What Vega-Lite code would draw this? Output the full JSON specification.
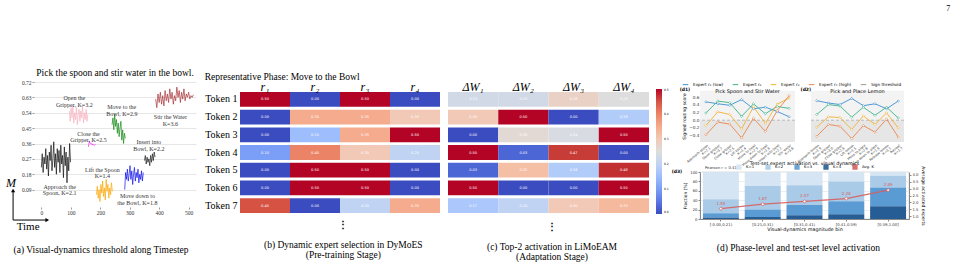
{
  "$schema": "https://vega.github.io/schema/vega-lite/v6.json",
  "background": "white",
  "padding": {"left": 6, "top": 4, "right": 0, "bottom": 0},
  "title": {"text": "7", "anchor": "end", "fontSize": 8, "font": "Liberation Serif", "fontWeight": "normal", "offset": 55, "dx": 25},
  "config": {
    "view": {"stroke": null},
    "legend": {"layout": {"top": {"anchor": "middle"}}},
    "axis": {"labelFont": "Liberation Serif", "titleFont": "Liberation Serif", "labelOverlap": false, "tickCount": 12}
  },
  "datasets": {
    "seriesA": [
      {"seg": "Approach", "t": 0, "m": 0.22}, {"seg": "Approach", "t": 3, "m": 0.30}, {"seg": "Approach", "t": 6, "m": 0.19}, {"seg": "Approach", "t": 9, "m": 0.28},
      {"seg": "Approach", "t": 12, "m": 0.24}, {"seg": "Approach", "t": 15, "m": 0.33}, {"seg": "Approach", "t": 18, "m": 0.21}, {"seg": "Approach", "t": 21, "m": 0.29},
      {"seg": "Approach", "t": 24, "m": 0.17}, {"seg": "Approach", "t": 27, "m": 0.31}, {"seg": "Approach", "t": 30, "m": 0.26}, {"seg": "Approach", "t": 33, "m": 0.35},
      {"seg": "Approach", "t": 36, "m": 0.20}, {"seg": "Approach", "t": 39, "m": 0.27}, {"seg": "Approach", "t": 42, "m": 0.37}, {"seg": "Approach", "t": 45, "m": 0.22},
      {"seg": "Approach", "t": 48, "m": 0.30}, {"seg": "Approach", "t": 51, "m": 0.18}, {"seg": "Approach", "t": 54, "m": 0.33}, {"seg": "Approach", "t": 57, "m": 0.25},
      {"seg": "Approach", "t": 60, "m": 0.32}, {"seg": "Approach", "t": 63, "m": 0.19}, {"seg": "Approach", "t": 66, "m": 0.35}, {"seg": "Approach", "t": 69, "m": 0.24},
      {"seg": "Approach", "t": 72, "m": 0.29}, {"seg": "Approach", "t": 75, "m": 0.16}, {"seg": "Approach", "t": 78, "m": 0.34}, {"seg": "Approach", "t": 81, "m": 0.23},
      {"seg": "Approach", "t": 84, "m": 0.31}, {"seg": "Approach", "t": 87, "m": 0.13}, {"seg": "Approach", "t": 90, "m": 0.28}, {"seg": "Approach", "t": 93, "m": 0.20},
      {"seg": "Approach", "t": 96, "m": 0.36}, {"seg": "Approach", "t": 99, "m": 0.25},
      {"seg": "Open", "t": 95, "m": 0.55}, {"seg": "Open", "t": 98, "m": 0.49}, {"seg": "Open", "t": 101, "m": 0.57}, {"seg": "Open", "t": 104, "m": 0.51},
      {"seg": "Open", "t": 107, "m": 0.58}, {"seg": "Open", "t": 110, "m": 0.48}, {"seg": "Open", "t": 113, "m": 0.54}, {"seg": "Open", "t": 116, "m": 0.50},
      {"seg": "Open", "t": 119, "m": 0.57}, {"seg": "Open", "t": 122, "m": 0.47}, {"seg": "Open", "t": 125, "m": 0.53}, {"seg": "Open", "t": 128, "m": 0.56},
      {"seg": "Open", "t": 131, "m": 0.49}, {"seg": "Open", "t": 134, "m": 0.55}, {"seg": "Open", "t": 137, "m": 0.51}, {"seg": "Open", "t": 140, "m": 0.58},
      {"seg": "Open", "t": 143, "m": 0.48}, {"seg": "Open", "t": 146, "m": 0.54}, {"seg": "Open", "t": 149, "m": 0.50}, {"seg": "Open", "t": 152, "m": 0.56},
      {"seg": "Open", "t": 155, "m": 0.49}, {"seg": "Open", "t": 158, "m": 0.53},
      {"seg": "Close", "t": 160, "m": 0.34}, {"seg": "Close", "t": 163, "m": 0.375}, {"seg": "Close", "t": 166, "m": 0.36}, {"seg": "Close", "t": 169, "m": 0.355},
      {"seg": "Close", "t": 172, "m": 0.36}, {"seg": "Close", "t": 175, "m": 0.35}, {"seg": "Close", "t": 178, "m": 0.355}, {"seg": "Close", "t": 181, "m": 0.35},
      {"seg": "Close", "t": 184, "m": 0.355},
      {"seg": "MoveTo", "t": 240, "m": 0.47}, {"seg": "MoveTo", "t": 243, "m": 0.51}, {"seg": "MoveTo", "t": 246, "m": 0.44}, {"seg": "MoveTo", "t": 249, "m": 0.53},
      {"seg": "MoveTo", "t": 252, "m": 0.46}, {"seg": "MoveTo", "t": 255, "m": 0.50}, {"seg": "MoveTo", "t": 258, "m": 0.42}, {"seg": "MoveTo", "t": 261, "m": 0.48},
      {"seg": "MoveTo", "t": 264, "m": 0.40}, {"seg": "MoveTo", "t": 267, "m": 0.45}, {"seg": "MoveTo", "t": 270, "m": 0.49}, {"seg": "MoveTo", "t": 273, "m": 0.38},
      {"seg": "MoveTo", "t": 276, "m": 0.44}, {"seg": "MoveTo", "t": 279, "m": 0.36}, {"seg": "MoveTo", "t": 282, "m": 0.42}, {"seg": "MoveTo", "t": 285, "m": 0.39},
      {"seg": "Lift", "t": 187, "m": 0.06}, {"seg": "Lift", "t": 190, "m": 0.11}, {"seg": "Lift", "t": 193, "m": 0.04}, {"seg": "Lift", "t": 196, "m": 0.09},
      {"seg": "Lift", "t": 199, "m": 0.02}, {"seg": "Lift", "t": 202, "m": 0.12}, {"seg": "Lift", "t": 205, "m": 0.07}, {"seg": "Lift", "t": 208, "m": 0.14},
      {"seg": "Lift", "t": 211, "m": 0.05}, {"seg": "Lift", "t": 214, "m": 0.10}, {"seg": "Lift", "t": 217, "m": 0.03}, {"seg": "Lift", "t": 220, "m": 0.15},
      {"seg": "Lift", "t": 223, "m": 0.08}, {"seg": "Lift", "t": 226, "m": 0.12}, {"seg": "Lift", "t": 229, "m": 0.04}, {"seg": "Lift", "t": 232, "m": 0.10},
      {"seg": "Lift", "t": 235, "m": 0.06}, {"seg": "Lift", "t": 238, "m": 0.13}, {"seg": "Lift", "t": 241, "m": 0.08},
      {"seg": "MoveDown", "t": 283, "m": 0.09}, {"seg": "MoveDown", "t": 286, "m": 0.19}, {"seg": "MoveDown", "t": 289, "m": 0.15}, {"seg": "MoveDown", "t": 292, "m": 0.21},
      {"seg": "MoveDown", "t": 295, "m": 0.14}, {"seg": "MoveDown", "t": 298, "m": 0.18}, {"seg": "MoveDown", "t": 301, "m": 0.23}, {"seg": "MoveDown", "t": 304, "m": 0.15},
      {"seg": "MoveDown", "t": 307, "m": 0.20}, {"seg": "MoveDown", "t": 310, "m": 0.12}, {"seg": "MoveDown", "t": 313, "m": 0.18}, {"seg": "MoveDown", "t": 316, "m": 0.22},
      {"seg": "MoveDown", "t": 319, "m": 0.14}, {"seg": "MoveDown", "t": 322, "m": 0.19}, {"seg": "MoveDown", "t": 325, "m": 0.16}, {"seg": "MoveDown", "t": 328, "m": 0.21},
      {"seg": "MoveDown", "t": 331, "m": 0.13}, {"seg": "MoveDown", "t": 334, "m": 0.18}, {"seg": "MoveDown", "t": 337, "m": 0.15}, {"seg": "MoveDown", "t": 340, "m": 0.20},
      {"seg": "MoveDown", "t": 343, "m": 0.14}, {"seg": "MoveDown", "t": 346, "m": 0.19},
      {"seg": "Insert", "t": 350, "m": 0.26}, {"seg": "Insert", "t": 353, "m": 0.29}, {"seg": "Insert", "t": 356, "m": 0.24}, {"seg": "Insert", "t": 359, "m": 0.28},
      {"seg": "Insert", "t": 362, "m": 0.25}, {"seg": "Insert", "t": 365, "m": 0.27}, {"seg": "Insert", "t": 368, "m": 0.23}, {"seg": "Insert", "t": 371, "m": 0.29},
      {"seg": "Insert", "t": 374, "m": 0.25}, {"seg": "Insert", "t": 377, "m": 0.30}, {"seg": "Insert", "t": 380, "m": 0.26}, {"seg": "Insert", "t": 383, "m": 0.31},
      {"seg": "Insert", "t": 386, "m": 0.28},
      {"seg": "Stir", "t": 388, "m": 0.62}, {"seg": "Stir", "t": 392, "m": 0.57}, {"seg": "Stir", "t": 396, "m": 0.65}, {"seg": "Stir", "t": 400, "m": 0.60},
      {"seg": "Stir", "t": 404, "m": 0.66}, {"seg": "Stir", "t": 408, "m": 0.59}, {"seg": "Stir", "t": 412, "m": 0.64}, {"seg": "Stir", "t": 416, "m": 0.58},
      {"seg": "Stir", "t": 420, "m": 0.67}, {"seg": "Stir", "t": 424, "m": 0.61}, {"seg": "Stir", "t": 428, "m": 0.65}, {"seg": "Stir", "t": 432, "m": 0.60},
      {"seg": "Stir", "t": 436, "m": 0.68}, {"seg": "Stir", "t": 440, "m": 0.62}, {"seg": "Stir", "t": 444, "m": 0.66}, {"seg": "Stir", "t": 448, "m": 0.59},
      {"seg": "Stir", "t": 452, "m": 0.64}, {"seg": "Stir", "t": 456, "m": 0.61}, {"seg": "Stir", "t": 460, "m": 0.69}, {"seg": "Stir", "t": 464, "m": 0.63},
      {"seg": "Stir", "t": 468, "m": 0.67}, {"seg": "Stir", "t": 472, "m": 0.60}, {"seg": "Stir", "t": 476, "m": 0.66}, {"seg": "Stir", "t": 480, "m": 0.62},
      {"seg": "Stir", "t": 484, "m": 0.68}, {"seg": "Stir", "t": 488, "m": 0.61}, {"seg": "Stir", "t": 492, "m": 0.65}, {"seg": "Stir", "t": 496, "m": 0.63},
      {"seg": "Stir", "t": 500, "m": 0.66}, {"seg": "Stir", "t": 504, "m": 0.62}, {"seg": "Stir", "t": 508, "m": 0.64}, {"seg": "Stir", "t": 512, "m": 0.63},
      {"seg": "Stir", "t": 516, "m": 0.645}
    ],
    "labelsA": [
      {"t": 112, "m": 0.624, "label": "Open the\nGripper, K=3.2"},
      {"t": 273, "m": 0.573, "label": "Move to the\nBowl, K=2.9"},
      {"t": 438, "m": 0.514, "label": "Stir the Water\nK=3.6"},
      {"t": 160, "m": 0.416, "label": "Close the\nGripper, K=2.5"},
      {"t": 365, "m": 0.368, "label": "Insert into\nBowl, K=2.2"},
      {"t": 207, "m": 0.206, "label": "Lift the Spoon\nK=1.4"},
      {"t": 62, "m": 0.106, "label": "Approach the\nSpoon, K=2.1"},
      {"t": 326, "m": 0.05, "label": "Move down to\nthe Bowl, K=1.8"}
    ],
    "heatB": [
      {"tok": "Token 1", "col": "r₁", "v": 0.50}, {"tok": "Token 1", "col": "r₂", "v": 0.00}, {"tok": "Token 1", "col": "r₃", "v": 0.50}, {"tok": "Token 1", "col": "r₄", "v": 0.00},
      {"tok": "Token 2", "col": "r₁", "v": 0.00}, {"tok": "Token 2", "col": "r₂", "v": 0.35}, {"tok": "Token 2", "col": "r₃", "v": 0.35}, {"tok": "Token 2", "col": "r₄", "v": 0.30},
      {"tok": "Token 3", "col": "r₁", "v": 0.00}, {"tok": "Token 3", "col": "r₂", "v": 0.15}, {"tok": "Token 3", "col": "r₃", "v": 0.35}, {"tok": "Token 3", "col": "r₄", "v": 0.50},
      {"tok": "Token 4", "col": "r₁", "v": 0.10}, {"tok": "Token 4", "col": "r₂", "v": 0.40}, {"tok": "Token 4", "col": "r₃", "v": 0.30}, {"tok": "Token 4", "col": "r₄", "v": 0.20},
      {"tok": "Token 5", "col": "r₁", "v": 0.00}, {"tok": "Token 5", "col": "r₂", "v": 0.50}, {"tok": "Token 5", "col": "r₃", "v": 0.50}, {"tok": "Token 5", "col": "r₄", "v": 0.00},
      {"tok": "Token 6", "col": "r₁", "v": 0.00}, {"tok": "Token 6", "col": "r₂", "v": 0.50}, {"tok": "Token 6", "col": "r₃", "v": 0.50}, {"tok": "Token 6", "col": "r₄", "v": 0.00},
      {"tok": "Token 7", "col": "r₁", "v": 0.45}, {"tok": "Token 7", "col": "r₂", "v": 0.00}, {"tok": "Token 7", "col": "r₃", "v": 0.20}, {"tok": "Token 7", "col": "r₄", "v": 0.35}
    ],
    "heatC": [
      {"tok": "Token 1", "col": "ΔW₁", "v": 0.23}, {"tok": "Token 1", "col": "ΔW₂", "v": 0.23}, {"tok": "Token 1", "col": "ΔW₃", "v": 0.28}, {"tok": "Token 1", "col": "ΔW₄", "v": 0.25},
      {"tok": "Token 2", "col": "ΔW₁", "v": 0.30}, {"tok": "Token 2", "col": "ΔW₂", "v": 0.50}, {"tok": "Token 2", "col": "ΔW₃", "v": 0.00}, {"tok": "Token 2", "col": "ΔW₄", "v": 0.18},
      {"tok": "Token 3", "col": "ΔW₁", "v": 0.00}, {"tok": "Token 3", "col": "ΔW₂", "v": 0.26}, {"tok": "Token 3", "col": "ΔW₃", "v": 0.24}, {"tok": "Token 3", "col": "ΔW₄", "v": 0.50},
      {"tok": "Token 4", "col": "ΔW₁", "v": 0.50}, {"tok": "Token 4", "col": "ΔW₂", "v": 0.03}, {"tok": "Token 4", "col": "ΔW₃", "v": 0.47}, {"tok": "Token 4", "col": "ΔW₄", "v": 0.00},
      {"tok": "Token 5", "col": "ΔW₁", "v": 0.03}, {"tok": "Token 5", "col": "ΔW₂", "v": 0.32}, {"tok": "Token 5", "col": "ΔW₃", "v": 0.18}, {"tok": "Token 5", "col": "ΔW₄", "v": 0.48},
      {"tok": "Token 6", "col": "ΔW₁", "v": 0.50}, {"tok": "Token 6", "col": "ΔW₂", "v": 0.00}, {"tok": "Token 6", "col": "ΔW₃", "v": 0.00}, {"tok": "Token 6", "col": "ΔW₄", "v": 0.50},
      {"tok": "Token 7", "col": "ΔW₁", "v": 0.17}, {"tok": "Token 7", "col": "ΔW₂", "v": 0.20}, {"tok": "Token 7", "col": "ΔW₃", "v": 0.30}, {"tok": "Token 7", "col": "ΔW₄", "v": 0.33}
    ],
    "phaseD1": [
      {"phase": "Approach spoon\nK=2.1", "expert": "Expert r₁ (low)", "score": 0.48}, {"phase": "Open gripper\nK=3.2", "expert": "Expert r₁ (low)", "score": 0.43},
      {"phase": "Close gripper\nK=2.5", "expert": "Expert r₁ (low)", "score": 0.39}, {"phase": "Lift spoon\nK=1.4", "expert": "Expert r₁ (low)", "score": 0.54},
      {"phase": "Move to bowl\nK=2.9", "expert": "Expert r₁ (low)", "score": 0.30}, {"phase": "Move down to bowl\nK=1.8", "expert": "Expert r₁ (low)", "score": 0.34},
      {"phase": "Insert into bowl\nK=2.2", "expert": "Expert r₁ (low)", "score": 0.23}, {"phase": "Stir water\nK=3.6", "expert": "Expert r₁ (low)", "score": 0.09},
      {"phase": "Approach spoon\nK=2.1", "expert": "Expert r₂", "score": 0.19}, {"phase": "Open gripper\nK=3.2", "expert": "Expert r₂", "score": 0.50},
      {"phase": "Close gripper\nK=2.5", "expert": "Expert r₂", "score": 0.46}, {"phase": "Lift spoon\nK=1.4", "expert": "Expert r₂", "score": 0.10},
      {"phase": "Move to bowl\nK=2.9", "expert": "Expert r₂", "score": 0.43}, {"phase": "Move down to bowl\nK=1.8", "expert": "Expert r₂", "score": 0.17},
      {"phase": "Insert into bowl\nK=2.2", "expert": "Expert r₂", "score": 0.36}, {"phase": "Stir water\nK=3.6", "expert": "Expert r₂", "score": 0.31},
      {"phase": "Approach spoon\nK=2.1", "expert": "Expert r₃", "score": -0.14}, {"phase": "Open gripper\nK=3.2", "expert": "Expert r₃", "score": 0.22},
      {"phase": "Close gripper\nK=2.5", "expert": "Expert r₃", "score": 0.15}, {"phase": "Lift spoon\nK=1.4", "expert": "Expert r₃", "score": -0.23},
      {"phase": "Move to bowl\nK=2.9", "expert": "Expert r₃", "score": 0.35}, {"phase": "Move down to bowl\nK=1.8", "expert": "Expert r₃", "score": -0.08},
      {"phase": "Insert into bowl\nK=2.2", "expert": "Expert r₃", "score": 0.42}, {"phase": "Stir water\nK=3.6", "expert": "Expert r₃", "score": 0.58},
      {"phase": "Approach spoon\nK=2.1", "expert": "Expert r₄ (high)", "score": -0.38}, {"phase": "Open gripper\nK=3.2", "expert": "Expert r₄ (high)", "score": -0.05},
      {"phase": "Close gripper\nK=2.5", "expert": "Expert r₄ (high)", "score": -0.10}, {"phase": "Lift spoon\nK=1.4", "expert": "Expert r₄ (high)", "score": -0.46},
      {"phase": "Move to bowl\nK=2.9", "expert": "Expert r₄ (high)", "score": 0.05}, {"phase": "Move down to bowl\nK=1.8", "expert": "Expert r₄ (high)", "score": -0.29},
      {"phase": "Insert into bowl\nK=2.2", "expert": "Expert r₄ (high)", "score": 0.25}, {"phase": "Stir water\nK=3.6", "expert": "Expert r₄ (high)", "score": 0.64}
    ],
    "phaseD2": [
      {"phase": "Approach lemon\nK=1.9", "expert": "Expert r₁ (low)", "score": 0.51}, {"phase": "Open gripper\nK=3.0", "expert": "Expert r₁ (low)", "score": 0.45},
      {"phase": "Close gripper\nK=2.8", "expert": "Expert r₁ (low)", "score": 0.41}, {"phase": "Lift lemon\nK=1.5", "expert": "Expert r₁ (low)", "score": 0.57},
      {"phase": "Move to plate\nK=2.6", "expert": "Expert r₁ (low)", "score": 0.38}, {"phase": "Move down to plate\nK=1.8", "expert": "Expert r₁ (low)", "score": 0.43},
      {"phase": "Release lemon\nK=3.1", "expert": "Expert r₁ (low)", "score": 0.30}, {"phase": "Retreat\nK=1.7", "expert": "Expert r₁ (low)", "score": 0.50},
      {"phase": "Approach lemon\nK=1.9", "expert": "Expert r₂", "score": 0.15}, {"phase": "Open gripper\nK=3.0", "expert": "Expert r₂", "score": 0.41},
      {"phase": "Close gripper\nK=2.8", "expert": "Expert r₂", "score": 0.37}, {"phase": "Lift lemon\nK=1.5", "expert": "Expert r₂", "score": 0.08},
      {"phase": "Move to plate\nK=2.6", "expert": "Expert r₂", "score": 0.34}, {"phase": "Move down to plate\nK=1.8", "expert": "Expert r₂", "score": 0.13},
      {"phase": "Release lemon\nK=3.1", "expert": "Expert r₂", "score": 0.34}, {"phase": "Retreat\nK=1.7", "expert": "Expert r₂", "score": 0.06},
      {"phase": "Approach lemon\nK=1.9", "expert": "Expert r₃", "score": -0.18}, {"phase": "Open gripper\nK=3.0", "expert": "Expert r₃", "score": 0.09},
      {"phase": "Close gripper\nK=2.8", "expert": "Expert r₃", "score": 0.07}, {"phase": "Lift lemon\nK=1.5", "expert": "Expert r₃", "score": -0.24},
      {"phase": "Move to plate\nK=2.6", "expert": "Expert r₃", "score": 0.11}, {"phase": "Move down to plate\nK=1.8", "expert": "Expert r₃", "score": -0.11},
      {"phase": "Release lemon\nK=3.1", "expert": "Expert r₃", "score": 0.19}, {"phase": "Retreat\nK=1.7", "expert": "Expert r₃", "score": -0.20},
      {"phase": "Approach lemon\nK=1.9", "expert": "Expert r₄ (high)", "score": -0.42}, {"phase": "Open gripper\nK=3.0", "expert": "Expert r₄ (high)", "score": -0.11},
      {"phase": "Close gripper\nK=2.8", "expert": "Expert r₄ (high)", "score": -0.16}, {"phase": "Lift lemon\nK=1.5", "expert": "Expert r₄ (high)", "score": -0.48},
      {"phase": "Move to plate\nK=2.6", "expert": "Expert r₄ (high)", "score": -0.14}, {"phase": "Move down to plate\nK=1.8", "expert": "Expert r₄ (high)", "score": -0.31},
      {"phase": "Release lemon\nK=3.1", "expert": "Expert r₄ (high)", "score": 0.03}, {"phase": "Retreat\nK=1.7", "expert": "Expert r₄ (high)", "score": -0.44}
    ],
    "binsD3": [
      {"bin": "[-0.00,0.21)", "k": "K=1", "frac": 58}, {"bin": "[-0.00,0.21)", "k": "K=2", "frac": 30}, {"bin": "[-0.00,0.21)", "k": "K=3", "frac": 9}, {"bin": "[-0.00,0.21)", "k": "K=4", "frac": 3},
      {"bin": "[0.21,0.31)", "k": "K=1", "frac": 30}, {"bin": "[0.21,0.31)", "k": "K=2", "frac": 50}, {"bin": "[0.21,0.31)", "k": "K=3", "frac": 16}, {"bin": "[0.21,0.31)", "k": "K=4", "frac": 4},
      {"bin": "[0.31,0.41)", "k": "K=1", "frac": 28}, {"bin": "[0.31,0.41)", "k": "K=2", "frac": 42}, {"bin": "[0.31,0.41)", "k": "K=3", "frac": 22}, {"bin": "[0.31,0.41)", "k": "K=4", "frac": 8},
      {"bin": "[0.41,0.59)", "k": "K=1", "frac": 20}, {"bin": "[0.41,0.59)", "k": "K=2", "frac": 42}, {"bin": "[0.41,0.59)", "k": "K=3", "frac": 28}, {"bin": "[0.41,0.59)", "k": "K=4", "frac": 10},
      {"bin": "[0.59,1.00]", "k": "K=1", "frac": 8}, {"bin": "[0.59,1.00]", "k": "K=2", "frac": 25}, {"bin": "[0.59,1.00]", "k": "K=3", "frac": 40}, {"bin": "[0.59,1.00]", "k": "K=4", "frac": 27}
    ],
    "avgD3": [
      {"bin": "[-0.00,0.21)", "avg": 1.55}, {"bin": "[0.21,0.31)", "avg": 1.87}, {"bin": "[0.31,0.41)", "avg": 2.07},
      {"bin": "[0.41,0.59)", "avg": 2.28}, {"bin": "[0.59,1.00]", "avg": 2.89}
    ]
  },
  "spacing": 8,
  "align": "none",
  "resolve": {"scale": {"x": "independent", "y": "independent", "color": "independent"}, "legend": {"color": "independent"}},
  "hconcat": [
    {
      "title": {"text": "(a) Visual-dynamics threshold along Timestep", "orient": "bottom", "anchor": "middle", "font": "Liberation Serif", "fontSize": 9.5, "fontWeight": "normal", "offset": 13},
      "vconcat": [
        {
          "width": 162,
          "height": 123,
          "title": {"text": "Pick the spoon and stir water in the bowl.", "font": "Liberation Serif", "fontSize": 9.5, "fontWeight": "normal", "offset": 3},
          "layer": [
            {
              "data": {"name": "seriesA"},
              "mark": {"type": "line", "strokeWidth": 0.7},
              "encoding": {
                "x": {"field": "t", "type": "quantitative", "scale": {"domain": [-25, 525], "nice": false, "zero": false},
                  "axis": {"values": [0, 100, 200, 300, 400, 500], "tickCount": 12, "title": null, "grid": false, "domain": false, "tickSize": 2, "tickColor": "#999", "labelFontSize": 5.5, "labelColor": "#333", "labelPadding": 1, "offset": 2}},
                "y": {"field": "m", "type": "quantitative", "scale": {"domain": [0, 0.72], "nice": false},
                  "axis": {"values": [0.09, 0.18, 0.27, 0.36, 0.45, 0.54, 0.63, 0.72], "tickCount": 12, "format": ".2f", "title": null, "grid": true, "gridColor": "#e6e6e6", "domain": false, "tickSize": 2, "tickColor": "#999", "labelFontSize": 5.5, "labelColor": "#333", "labelPadding": 1}},
                "color": {"field": "seg", "type": "nominal", "legend": null,
                  "scale": {"domain": ["Approach", "Open", "Close", "MoveTo", "Lift", "MoveDown", "Insert", "Stir"],
                    "range": ["#111111", "#f7b3c0", "#ee22ee", "#138a13", "#ffa500", "#1010ee", "#222222", "#a83238"]}},
                "detail": {"field": "seg"}
              }
            },
            {
              "data": {"name": "labelsA"},
              "mark": {"type": "text", "font": "Liberation Serif", "fontSize": 6, "lineBreak": "\n", "lineHeight": 6.5, "color": "#333"},
              "encoding": {
                "x": {"field": "t", "type": "quantitative"},
                "y": {"field": "m", "type": "quantitative"},
                "text": {"field": "label"}
              }
            },
            {
              "data": {"values": [{}]},
              "mark": {"type": "rule", "clip": false, "strokeWidth": 1, "color": "black"},
              "encoding": {"x": {"datum": -96}, "y": {"datum": -0.088}, "y2": {"datum": 0.08}}
            },
            {
              "data": {"values": [{}]},
              "mark": {"type": "rule", "clip": false, "strokeWidth": 1, "color": "black"},
              "encoding": {"x": {"datum": -96}, "x2": {"datum": 18}, "y": {"datum": -0.088}}
            },
            {
              "data": {"values": [{}]},
              "mark": {"type": "point", "shape": "triangle-up", "filled": true, "color": "black", "size": 18, "opacity": 1, "clip": false},
              "encoding": {"x": {"datum": -96}, "y": {"datum": 0.085}}
            },
            {
              "data": {"values": [{}]},
              "mark": {"type": "point", "shape": "triangle-right", "filled": true, "color": "black", "size": 18, "opacity": 1, "clip": false},
              "encoding": {"x": {"datum": 20}, "y": {"datum": -0.088}}
            },
            {
              "data": {"values": [{}]},
              "mark": {"type": "text", "text": "M", "font": "Liberation Serif", "fontStyle": "italic", "fontSize": 12, "clip": false},
              "encoding": {"x": {"datum": -103}, "y": {"datum": 0.13}}
            },
            {
              "data": {"values": [{}]},
              "mark": {"type": "text", "text": "Time", "font": "Liberation Serif", "fontSize": 11, "clip": false},
              "encoding": {"x": {"datum": -45}, "y": {"datum": -0.13}}
            }
          ]
        }
      ]
    },
    {
      "title": {"text": "⋮", "subtitle": ["(b) Dynamic expert selection in DyMoES", "(Pre-training Stage)"], "orient": "bottom", "anchor": "middle", "dx": 21, "font": "Liberation Serif", "fontSize": 10, "fontWeight": "bold", "subtitleFont": "Liberation Serif", "subtitleFontSize": 9.5, "subtitleColor": "black", "subtitlePadding": 10, "subtitleLineHeight": 10, "offset": 7},
      "vconcat": [
        {
          "width": 200,
          "height": 131,
          "title": {"text": "Representative Phase: Move to the Bowl", "anchor": "start", "frame": "bounds", "font": "Liberation Serif", "fontSize": 9.5, "fontWeight": "normal", "offset": -1},
          "data": {"name": "heatB"},
          "encoding": {
            "x": {"field": "col", "type": "nominal", "sort": null, "scale": {"paddingInner": 0, "paddingOuter": 0},
              "axis": {"orient": "top", "title": null, "labelAngle": 0, "labelFontSize": 12, "labelFontStyle": "italic", "labelColor": "black", "domain": false, "ticks": false, "labelPadding": 1, "offset": -12}},
            "y": {"field": "tok", "type": "nominal", "sort": null, "scale": {"paddingInner": 0.16, "paddingOuter": 0.283, "align": 1},
              "axis": {"title": null, "labelFontSize": 10, "labelColor": "black", "domain": false, "ticks": false, "labelPadding": 3}}
          },
          "layer": [
            {
              "mark": {"type": "rect"},
              "encoding": {
                "color": {"field": "v", "type": "quantitative", "legend": null,
                  "scale": {"domain": [0, 0.0625, 0.125, 0.1875, 0.25, 0.3125, 0.375, 0.4375, 0.5],
                    "range": ["#3b4cc0", "#6282ea", "#8db0fe", "#b8d0f9", "#dddddd", "#f5c4ac", "#f49a7b", "#de604d", "#b40426"]}}
              }
            },
            {
              "mark": {"type": "text", "fontSize": 3.5, "color": "white", "font": "DejaVu Sans"},
              "encoding": {"text": {"field": "v", "type": "quantitative", "format": ".2f"}}
            }
          ]
        }
      ]
    },
    {
      "spacing": -5,
      "align": "none",
      "resolve": {"scale": {"x": "independent", "y": "independent", "color": "independent"}, "legend": {"color": "independent"}},
      "hconcat": [
        {
          "title": {"text": "⋮", "subtitle": ["(c) Top-2 activation in LiMoEAM", "(Adaptation Stage)"], "orient": "bottom", "anchor": "middle", "dx": -10, "font": "Liberation Serif", "fontSize": 10, "fontWeight": "bold", "subtitleFont": "Liberation Serif", "subtitleFontSize": 9.5, "subtitleColor": "black", "subtitlePadding": 10, "subtitleLineHeight": 10, "offset": 1},
          "vconcat": [
            {
              "width": 201,
              "height": 131,
              "data": {"name": "heatC"},
              "encoding": {
                "x": {"field": "col", "type": "nominal", "sort": null, "scale": {"paddingInner": 0, "paddingOuter": 0},
                  "axis": {"orient": "top", "title": null, "labelAngle": 0, "labelFontSize": 12, "labelFontStyle": "italic", "labelColor": "black", "domain": false, "ticks": false, "labelPadding": 1, "offset": -12}},
                "y": {"field": "tok", "type": "nominal", "sort": null, "scale": {"paddingInner": 0.16, "paddingOuter": 0.283, "align": 1}, "axis": null}
              },
              "layer": [
                {
                  "mark": {"type": "rect"},
                  "encoding": {
                    "color": {"field": "v", "type": "quantitative",
                      "scale": {"domain": [0, 0.0625, 0.125, 0.1875, 0.25, 0.3125, 0.375, 0.4375, 0.5],
                        "range": ["#3b4cc0", "#6282ea", "#8db0fe", "#b8d0f9", "#dddddd", "#f5c4ac", "#f49a7b", "#de604d", "#b40426"]},
                      "legend": {"title": null, "gradientLength": 125, "gradientThickness": 6, "labelFontSize": 3, "labelFont": "DejaVu Sans", "values": [0, 0.1, 0.2, 0.3, 0.4, 0.5], "format": ".1f", "offset": 0, "padding": 7}}
                  }
                },
                {
                  "mark": {"type": "text", "fontSize": 3.5, "color": "white", "font": "DejaVu Sans"},
                  "encoding": {"text": {"field": "v", "type": "quantitative", "format": ".2f"}}
                }
              ]
            }
          ]
        },
        {
          "title": {"text": "(d) Phase-level and test-set level activation", "orient": "bottom", "anchor": "middle", "font": "Liberation Serif", "fontSize": 9.5, "fontWeight": "normal", "offset": 11},
          "spacing": -10,
          "align": "none",
          "resolve": {"scale": {"x": "independent", "y": "independent", "color": "independent"}, "legend": {"color": "independent"}},
          "vconcat": [
            {
              "spacing": 0,
              "resolve": {"scale": {"x": "independent", "y": "shared", "color": "shared"}},
              "hconcat": [
                {
                  "width": 95,
                  "height": 60,
                  "title": {"text": "Pick Spoon and Stir Water", "font": "DejaVu Sans", "fontSize": 5, "fontWeight": "normal", "offset": -12},
                  "layer": [
                    {
                      "data": {"values": [{}]},
                      "mark": {"type": "rect", "color": "#f3f3f3"},
                      "encoding": {"y": {"datum": 0}, "y2": {"datum": 0.77}}
                    },
                    {
                      "data": {"values": [{}]},
                      "mark": {"type": "rect", "color": "#e6e6e6"},
                      "encoding": {"y": {"datum": -0.57}, "y2": {"datum": 0}}
                    },
                    {
                      "data": {"values": [{}]},
                      "mark": {"type": "rule", "strokeDash": [3, 2], "strokeWidth": 0.6},
                      "encoding": {"y": {"datum": 0}, "color": {"datum": "Sign threshold"}}
                    },
                    {
                      "data": {"name": "phaseD1"},
                      "mark": {"type": "line", "strokeWidth": 0.9},
                      "encoding": {
                        "x": {"field": "phase", "type": "nominal", "sort": null, "scale": {"type": "point", "padding": 0.5},
                          "axis": {"title": null, "labelAngle": -40, "labelFontSize": 3.3, "labelFont": "DejaVu Sans", "labelColor": "#333", "labelExpr": "split(datum.label, '\\n')", "labelLineHeight": 3.7, "ticks": false, "domain": false, "labelPadding": 1, "grid": false}},
                        "y": {"field": "score", "type": "quantitative", "scale": {"domain": [-0.57, 1.0], "nice": false},
                          "axis": {"values": [-0.4, -0.2, 0, 0.2, 0.4, 0.6], "tickCount": 12, "format": ".1f", "title": "Signed routing score", "titleFont": "DejaVu Sans", "titleFontSize": 4.5, "titleFontWeight": "normal", "titleY": 34, "labelFont": "DejaVu Sans", "labelFontSize": 4.2, "labelColor": "#333", "ticks": false, "domain": false, "labelPadding": 1, "titlePadding": 2, "grid": true, "gridColor": "white", "gridWidth": 0.6}},
                        "color": {"field": "expert", "type": "nominal",
                          "scale": {"domain": ["Expert r₁ (low)", "Expert r₂", "Expert r₃", "Expert r₄ (high)", "Sign threshold"], "range": ["#3d8fd1", "#3cb389", "#f2b134", "#e9854d", "#999999"]},
                          "legend": {"orient": "top", "direction": "horizontal", "title": null, "labelFont": "DejaVu Sans", "labelFontSize": 4.2, "symbolType": "stroke", "symbolSize": 30, "symbolStrokeWidth": 1, "columnPadding": 6, "offset": -5, "padding": 0}}
                      }
                    },
                    {
                      "data": {"name": "phaseD1"},
                      "mark": {"type": "point", "filled": false, "fill": "white", "fillOpacity": 1, "size": 6, "strokeWidth": 0.6, "shape": "diamond", "opacity": 1},
                      "encoding": {
                        "x": {"field": "phase", "type": "nominal", "sort": null},
                        "y": {"field": "score", "type": "quantitative"},
                        "color": {"field": "expert", "type": "nominal"}
                      }
                    },
                    {
                      "data": {"values": [{}]},
                      "mark": {"type": "text", "text": "(d1)", "font": "DejaVu Sans", "fontSize": 4.5, "fontWeight": "bold", "dx": -21, "baseline": "middle", "clip": false},
                      "encoding": {"x": {"datum": "Approach spoon\nK=2.1"}, "y": {"datum": 0.8}}
                    }
                  ]
                },
                {
                  "width": 93,
                  "height": 60,
                  "title": {"text": "Pick and Place Lemon", "font": "DejaVu Sans", "fontSize": 5, "fontWeight": "normal", "offset": -12},
                  "layer": [
                    {
                      "data": {"values": [{}]},
                      "mark": {"type": "rect", "color": "#f3f3f3"},
                      "encoding": {"y": {"datum": 0}, "y2": {"datum": 0.77}}
                    },
                    {
                      "data": {"values": [{}]},
                      "mark": {"type": "rect", "color": "#e6e6e6"},
                      "encoding": {"y": {"datum": -0.57}, "y2": {"datum": 0}}
                    },
                    {
                      "data": {"values": [{}]},
                      "mark": {"type": "rule", "strokeDash": [3, 2], "strokeWidth": 0.6},
                      "encoding": {"y": {"datum": 0}, "color": {"datum": "Sign threshold"}}
                    },
                    {
                      "data": {"name": "phaseD2"},
                      "mark": {"type": "line", "strokeWidth": 0.9},
                      "encoding": {
                        "x": {"field": "phase", "type": "nominal", "sort": null, "scale": {"type": "point", "padding": 0.5},
                          "axis": {"title": null, "labelAngle": -40, "labelFontSize": 3.3, "labelFont": "DejaVu Sans", "labelColor": "#333", "labelExpr": "split(datum.label, '\\n')", "labelLineHeight": 3.7, "ticks": false, "domain": false, "labelPadding": 1, "grid": false}},
                        "y": {"field": "score", "type": "quantitative",
                          "axis": {"values": [-0.4, -0.2, 0, 0.2, 0.4, 0.6], "tickCount": 12, "title": null, "labels": false, "ticks": false, "domain": false, "grid": true, "gridColor": "white", "gridWidth": 0.6}},
                        "color": {"field": "expert", "type": "nominal"}
                      }
                    },
                    {
                      "data": {"name": "phaseD2"},
                      "mark": {"type": "point", "filled": false, "fill": "white", "fillOpacity": 1, "size": 6, "strokeWidth": 0.6, "shape": "diamond", "opacity": 1},
                      "encoding": {
                        "x": {"field": "phase", "type": "nominal", "sort": null},
                        "y": {"field": "score", "type": "quantitative"},
                        "color": {"field": "expert", "type": "nominal"}
                      }
                    },
                    {
                      "data": {"values": [{}]},
                      "mark": {"type": "text", "text": "(d2)", "font": "DejaVu Sans", "fontSize": 4.5, "fontWeight": "bold", "dx": -11, "baseline": "middle", "clip": false},
                      "encoding": {"x": {"datum": "Approach lemon\nK=1.9"}, "y": {"datum": 0.8}}
                    }
                  ]
                }
              ]
            },
            {
              "width": 209,
              "height": 47,
              "view": {"stroke": "#bbbbbb", "strokeWidth": 0.5},
              "title": {"text": "Test-set expert activation vs. visual dynamics", "font": "DejaVu Sans", "fontSize": 4.8, "fontWeight": "normal", "offset": -2},
              "resolve": {"scale": {"y": "independent"}},
              "layer": [
                {
                  "layer": [
                    {
                      "data": {"name": "binsD3"},
                      "mark": {"type": "bar"},
                      "encoding": {
                        "x": {"field": "bin", "type": "nominal", "sort": null, "scale": {"paddingInner": 0.14, "paddingOuter": 0.07},
                          "axis": {"title": "Visual-dynamics magnitude bin", "titleFont": "DejaVu Sans", "titleFontSize": 4.8, "titleFontWeight": "normal", "titlePadding": 1, "labelAngle": 0, "labelFont": "DejaVu Sans", "labelFontSize": 3.8, "labelColor": "#333", "tickSize": 2, "domainColor": "#888", "labelPadding": 1}},
                        "y": {"field": "frac", "type": "quantitative", "stack": "zero", "scale": {"domain": [0, 100], "nice": false},
                          "axis": {"values": [0, 20, 40, 60, 80, 100], "tickCount": 12, "title": "Fraction (%)", "titleFont": "DejaVu Sans", "titleFontSize": 4.5, "titleFontWeight": "normal", "titlePadding": 2, "labelFont": "DejaVu Sans", "labelFontSize": 3.8, "labelColor": "#333", "tickSize": 2, "domainColor": "#888", "grid": true, "gridColor": "#eeeeee", "labelPadding": 1}},
                        "color": {"field": "k", "type": "nominal",
                          "scale": {"domain": ["K=1", "K=2", "K=3", "K=4", "Avg. K"], "range": ["#d5e5f4", "#a9cbe8", "#5a9bd3", "#265d94", "#d65f5f"]},
                          "legend": {"orient": "top", "direction": "horizontal", "title": null, "labelFont": "DejaVu Sans", "labelFontSize": 3.8, "symbolType": "square", "symbolSize": 14, "columnPadding": 8, "offset": 0, "padding": 0}}
                      }
                    },
                    {
                      "data": {"values": [{}]},
                      "mark": {"type": "text", "text": "Pearson r = 0.41", "font": "DejaVu Sans", "fontSize": 3.8, "clip": false, "color": "#333"},
                      "encoding": {"x": {"datum": "[-0.00,0.21)"}, "y": {"datum": 109}}
                    },
                    {
                      "data": {"values": [{}]},
                      "mark": {"type": "text", "text": "(d3)", "font": "DejaVu Sans", "fontSize": 4.5, "fontWeight": "bold", "dx": -44, "clip": false},
                      "encoding": {"x": {"datum": "[-0.00,0.21)"}, "y": {"datum": 100}}
                    }
                  ]
                },
                {
                  "data": {"name": "avgD3"},
                  "encoding": {
                    "x": {"field": "bin", "type": "nominal", "sort": null},
                    "y": {"field": "avg", "type": "quantitative", "scale": {"domain": [0.8, 4.2], "nice": false},
                      "axis": {"orient": "right", "values": [1, 1.5, 2, 2.5, 3, 3.5, 4], "tickCount": 12, "format": ".1f", "title": "Average activated experts", "titleFont": "DejaVu Sans", "titleFontSize": 4.5, "titleFontWeight": "normal", "titlePadding": 2, "labelFont": "DejaVu Sans", "labelFontSize": 3.8, "labelColor": "#333", "tickSize": 2, "domainColor": "#888", "grid": false, "labelPadding": 1}}
                  },
                  "layer": [
                    {"mark": {"type": "line", "strokeWidth": 1.3, "opacity": 0.9}, "encoding": {"color": {"datum": "Avg. K"}}},
                    {"mark": {"type": "point", "filled": false, "fill": "white", "fillOpacity": 1, "size": 8, "strokeWidth": 0.7, "color": "#d65f5f", "opacity": 1}},
                    {"mark": {"type": "text", "fontSize": 4, "font": "DejaVu Sans", "color": "#d65f5f", "dy": -5}, "encoding": {"text": {"field": "avg", "type": "quantitative", "format": ".2f"}}}
                  ]
                }
              ]
            }
          ]
        }
      ]
    }
  ]
}
